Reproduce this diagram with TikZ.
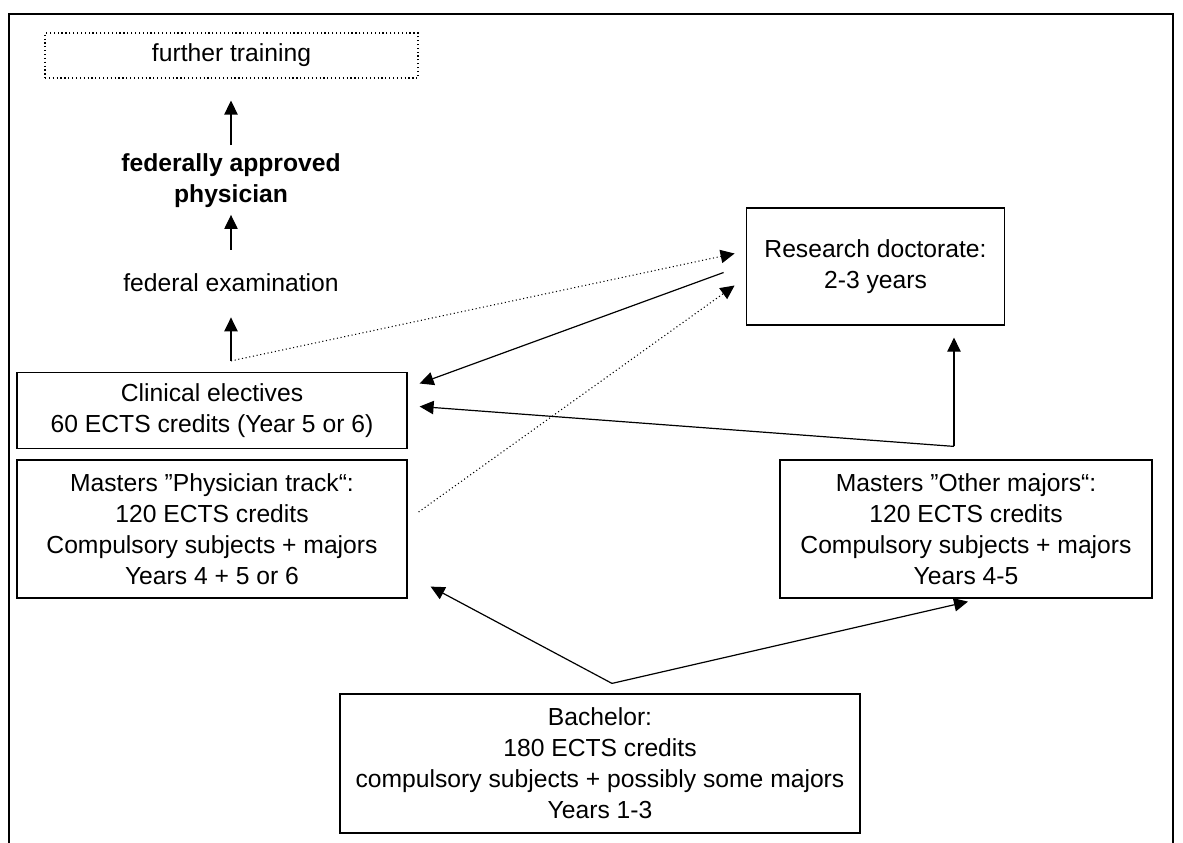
\documentclass[tikz,border=0pt]{standalone}
\usepackage{fontspec}
\setmainfont{Liberation Sans}
\usetikzlibrary{calc,arrows.meta}
\newcommand\diagfont{\fontsize{18.5}{23.25}\selectfont}
\tikzset{
  box/.style={draw, line width=0.9pt, align=center, inner sep=0pt, font=\diagfont},
  label/.style={align=center, inner sep=0pt, font=\diagfont},
  arr/.style={-{Triangle[length=10.5pt,width=10pt]}, line width=0.9pt},
  dotarr/.style={-{Triangle[length=10.5pt,width=10pt]}, line width=0.8pt, dotted},
}
\begin{document}
\begin{tikzpicture}[x=0.75pt,y=0.75pt,yscale=-1,xscale=1]
\useasboundingbox (0,0) rectangle (1183,843);
% frame
\draw[line width=1.5pt] (9,843) -- (9,14) -- (1173,14) -- (1173,843);
% left column
\node[box, dotted, line width=0.8pt, minimum width=279.75pt, minimum height=33.75pt] (train) at (231.5,55.5) {further training};
\node[label, font=\diagfont\bfseries] (approv) at (231,181) {federally approved\\physician};
\node[label] (exam) at (231,283) {federal examination};
\node[box, minimum width=292.5pt, minimum height=57pt] (clin) at (212,410.5) {Clinical electives\\60 ECTS credits (Year 5 or 6)};
\node[box, minimum width=292.5pt, minimum height=103.5pt] (mphys) at (212,529) {Masters ”Physician track“:\\120 ECTS credits\\Compulsory subjects + majors\\Years 4 + 5 or 6};
% right column
\node[box, minimum width=194pt, minimum height=87.75pt] (res) at (875.5,266.5) {Research doctorate:\\2-3 years};
\node[box, minimum width=279pt, minimum height=103.5pt] (mother) at (966,529) {Masters ”Other majors“:\\120 ECTS credits\\Compulsory subjects + majors\\Years 4-5};
% bottom
\node[box, minimum width=390pt, minimum height=104.25pt] (bach) at (600,763.5) {Bachelor:\\180 ECTS credits\\compulsory subjects + possibly some majors\\Years 1-3};
% upward chain
\draw[arr, shorten <=6.4pt, shorten >=16.5pt] (approv.north) -- (approv.north |- train.south);
\draw[arr, shorten <=18pt, shorten >=5pt] (exam.north) -- (approv.south);
\coordinate (fork) at ($(exam.south |- clin.north)+(0,-11)$);
\draw[arr, shorten >=18.8pt] (fork) -- (exam.south);
% doctorate links
\draw[dotarr] (fork) -- ($(res.west)+(-11,-13)$);
\draw[arr] ($(res.west)+(-22,6)$) -- ($(clin.east)+(12,-27)$);
\draw[dotarr] ($(mphys.east)+(11,-17)$) -- ($(res.west)+(-11,19)$);
\coordinate (split) at ($(mother.north)+(-12,-13)$);
\draw[arr] (split) -- ($(clin.east)+(12,-4)$);
\draw[arr] (split) -- ($(split |- res.south)+(0,12)$);
% bachelor
\coordinate (apex) at ($(bach.north)+(12,-10)$);
\draw[arr] (apex) -- ($(mphys.south east)+(23,-12)$);
\draw[arr] (apex) -- ($(mother.south)+(2,3)$);
\end{tikzpicture}
\end{document}
